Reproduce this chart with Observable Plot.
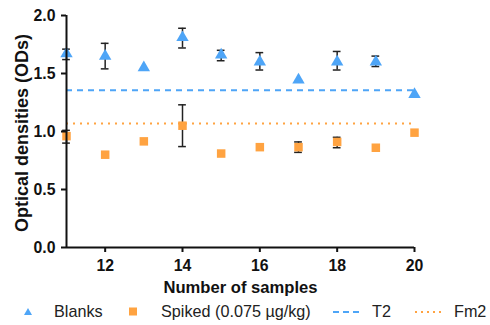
<!DOCTYPE html>
<html>
<head>
<meta charset="utf-8">
<script src="https://cdn.jsdelivr.net/npm/d3@7"></script>
<script src="https://cdn.jsdelivr.net/npm/@observablehq/plot@0.6"></script>
<style>
  body { margin: 0; background: #fff; font-family: "Liberation Sans", Arial, sans-serif; }
  #wrap { width: 490px; height: 325px; position: relative; }
  #legend { position: absolute; left: 0; top: 298px; width: 490px; height: 27px; font-size: 16.2px; color: #222; }
  #legend .sw, #legend .tx { position: absolute; }
  #legend .sw { top: 7px; }
  #legend .tx { top: 4px; line-height: 18px; }
  #legend svg { display: block; }
</style>
</head>
<body>
<div id="wrap"><div id="chart"></div><div id="legend"></div></div>
<script>
const samples = [11, 12, 13, 14, 15, 16, 17, 18, 19, 20];
const blanks = [1.67, 1.65, 1.55, 1.81, 1.66, 1.60, 1.445, 1.60, 1.60, 1.32];
const blanksLow = [1.62, 1.54, null, 1.72, 1.61, 1.53, null, 1.53, 1.56, null];
const blanksHigh = [1.71, 1.76, null, 1.89, 1.70, 1.68, null, 1.69, 1.65, null];
const spiked = [0.96, 0.80, 0.915, 1.05, 0.81, 0.865, 0.865, 0.91, 0.86, 0.99];
const spikedLow = [0.90, null, null, 0.87, null, null, 0.82, 0.86, null, null];
const spikedHigh = [1.01, null, null, 1.23, null, null, 0.91, 0.95, null, null];
const t2 = 1.355;
const fm2 = 1.07;
const xTicks = [12, 14, 16, 18, 20];
const yTicks = [0, 0.5, 1.0, 1.5, 2.0];
const xTitle = "Number of samples";
const yTitle = "Optical densities (ODs)";
const blue = "#4ea5f7";
const orange = "#ffa341";

const blankRows = samples.map((s, i) => ({x: s, y: blanks[i], lo: blanksLow[i], hi: blanksHigh[i]}));
const spikedRows = samples.map((s, i) => ({x: s, y: spiked[i], lo: spikedLow[i], hi: spikedHigh[i]}));
const errRows = [...blankRows, ...spikedRows].filter(d => d.lo != null);
const cap = 0.1;

const chart = Plot.plot({
  width: 490,
  height: 298,
  marginLeft: 66,
  marginRight: 76,
  marginTop: 15,
  marginBottom: 51,
  style: {fontFamily: "Liberation Sans, Arial, sans-serif", background: "#fff", overflow: "visible"},
  x: {domain: [11, 20]},
  y: {domain: [0, 2]},
  marks: [
    Plot.ruleY([t2], {x1: 11, x2: 20, stroke: blue, strokeWidth: 2, strokeDasharray: "6,5"}),
    Plot.ruleY([fm2], {x1: 11, x2: 20, stroke: orange, strokeWidth: 2, strokeDasharray: "2,5"}),
    Plot.ruleX(errRows, {x: "x", y1: "lo", y2: "hi", stroke: "#222", strokeWidth: 1.5}),
    Plot.ruleY(errRows, {y: "lo", x1: d => d.x - cap, x2: d => d.x + cap, stroke: "#222", strokeWidth: 1.5}),
    Plot.ruleY(errRows, {y: "hi", x1: d => d.x - cap, x2: d => d.x + cap, stroke: "#222", strokeWidth: 1.5}),
    Plot.dot(blankRows, {x: "x", y: "y", symbol: "triangle", r: 4.6, fill: blue}),
    Plot.dot(spikedRows, {x: "x", y: "y", symbol: "square", r: 4.8, fill: orange}),
    Plot.ruleX([11], {y1: 0, y2: 2, stroke: "#111", strokeWidth: 2}),
    Plot.ruleY([0], {x1: 11, x2: 20, stroke: "#111", strokeWidth: 2}),
    Plot.axisY({ticks: yTicks, tickFormat: d3.format(".1f"), tickSize: 5, tickPadding: 6, strokeWidth: 2, fontSize: 15.8, fontWeight: "bold", color: "#111", label: null}),
    Plot.axisX({ticks: xTicks, tickSize: 5, tickPadding: 7, strokeWidth: 2, fontSize: 15.8, fontWeight: "bold", color: "#111", label: null}),
    Plot.text([yTitle], {text: d => d, frameAnchor: "left", dx: -44, dy: 1.5, rotate: -90, fontSize: 18, fontWeight: "bold", fill: "#111", textAnchor: "middle", lineAnchor: "middle"}),
    Plot.text([xTitle], {text: d => d, frameAnchor: "bottom", dy: 40, fontSize: 16.6, fontWeight: "bold", fill: "#111", textAnchor: "middle", lineAnchor: "middle"})
  ]
});
document.getElementById("chart").appendChild(chart);

const legendItems = [
  {label: "Blanks", swLeft: 21, txLeft: 54, sw: `<svg width="14" height="14"><path d="M7,3 L11,10 L3,10 Z" fill="${blue}"/></svg>`},
  {label: "Spiked (0.075 µg/kg)", swLeft: 126, txLeft: 161, sw: `<svg width="14" height="14"><rect x="3" y="2.5" width="8" height="8" fill="${orange}"/></svg>`},
  {label: "T2", swLeft: 332, txLeft: 372, sw: `<svg width="30" height="14"><line x1="1" y1="7" x2="29" y2="7" stroke="${blue}" stroke-width="2" stroke-dasharray="6,4"/></svg>`},
  {label: "Fm2", swLeft: 413, txLeft: 454, sw: `<svg width="30" height="14"><line x1="2" y1="7" x2="28" y2="7" stroke="${orange}" stroke-width="2" stroke-dasharray="2,4"/></svg>`}
];
const leg = document.getElementById("legend");
for (const it of legendItems) {
  const s = document.createElement("div");
  s.className = "sw";
  s.style.left = it.swLeft + "px";
  s.innerHTML = it.sw;
  leg.appendChild(s);
  const t = document.createElement("div");
  t.className = "tx";
  t.style.left = it.txLeft + "px";
  t.textContent = it.label;
  leg.appendChild(t);
}
</script>
</body>
</html>
